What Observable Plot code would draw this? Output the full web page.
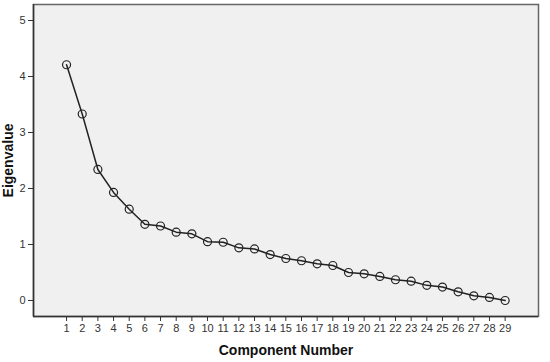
<!DOCTYPE html>
<html><head><meta charset="utf-8">
<script src="https://cdn.jsdelivr.net/npm/d3@7"></script>
<script src="https://cdn.jsdelivr.net/npm/@observablehq/plot@0.6"></script>
<style>
body{margin:0;background:#fff;font-family:"Liberation Sans",Arial,sans-serif;}
</style></head>
<body><div id="chart"></div>
<script>
const components = [1,2,3,4,5,6,7,8,9,10,11,12,13,14,15,16,17,18,19,20,21,22,23,24,25,26,27,28,29];
const eigenvalues = [4.21,3.33,2.34,1.93,1.63,1.36,1.33,1.22,1.19,1.05,1.04,0.94,0.92,0.82,0.75,0.71,0.655,0.625,0.50,0.477,0.43,0.37,0.345,0.27,0.24,0.155,0.084,0.054,0.0];
const yTicks = [0,1,2,3,4,5];
const data = components.map((c,i)=>({c, v: eigenvalues[i]}));

const chart = Plot.plot({
  width: 550, height: 362,
  marginLeft: 33, marginRight: 12, marginTop: 4, marginBottom: 46,
  style: {fontFamily: '"Liberation Sans", Arial, sans-serif', fontSize: "11px", color: "#333", background: "#fff"},
  x: {domain: [1-2.11, 29+2.13]},
  y: {domain: [-0.286, 5.286]},
  marks: [
    Plot.frame({fill: "#f0f0f0", stroke: "#666", strokeWidth: 1.5}),
    Plot.axisX({ticks: components, tickFormat: "d", tickSize: 5, tickPadding: 3, label: "Component Number", labelAnchor: "center", labelArrow: "none", labelOffset: 38, fontSize: 11}),
    Plot.axisY({ticks: yTicks, tickFormat: "d", tickSize: 5, tickPadding: 3, label: "Eigenvalue", labelAnchor: "center", labelArrow: "none", labelOffset: 30, fontSize: 11}),
    Plot.ruleY([-0.286], {stroke: "#333", strokeWidth: 1.5}),
    Plot.ruleX([1-2.11], {stroke: "#333", strokeWidth: 1.5}),
    Plot.line(data, {x: "c", y: "v", stroke: "#222", strokeWidth: 1.5}),
    Plot.dot(data, {x: "c", y: "v", r: 4, stroke: "#222", strokeWidth: 1.2, fill: "none"})
  ]
});
d3.select(chart).selectAll("g[aria-label='x-axis label'] text, g[aria-label='y-axis label'] text")
  .style("font-weight", "bold").style("font-size", "14px").style("fill", "#111");
document.getElementById("chart").appendChild(chart);
</script></body></html>
